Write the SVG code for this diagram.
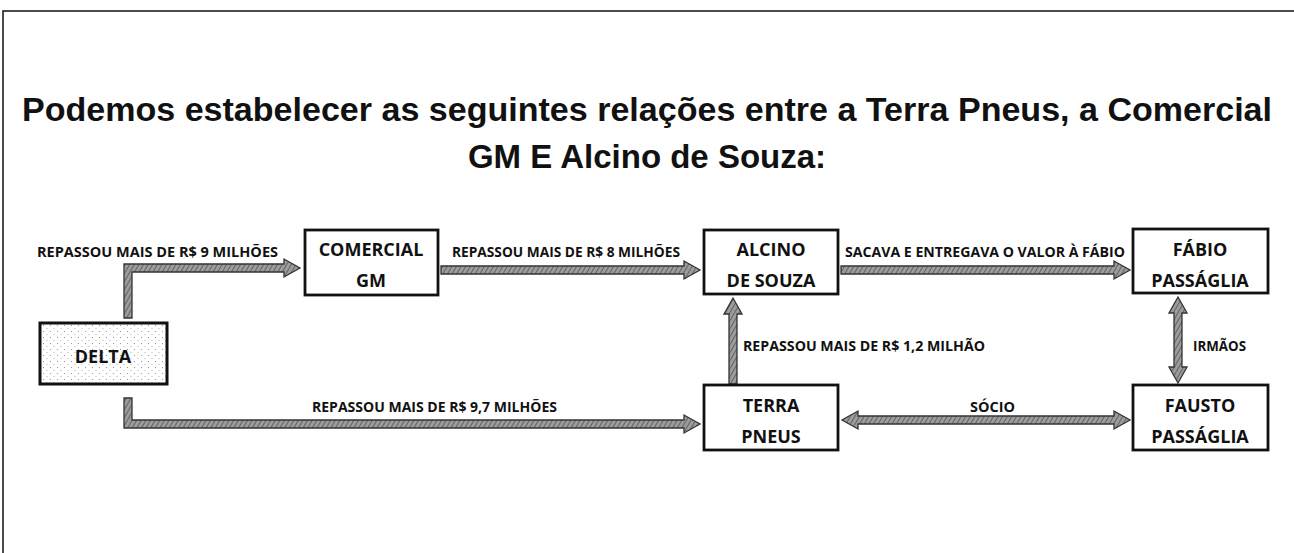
<svg xmlns="http://www.w3.org/2000/svg" width="1294" height="553" viewBox="0 0 1294 553">
<defs>
<pattern id="hatch" width="4" height="4" patternUnits="userSpaceOnUse" patternTransform="rotate(30)">
<rect width="4" height="4" fill="#9c9c9c"/>
<line x1="0" y1="0" x2="0" y2="4" stroke="#505050" stroke-width="1.5"/>
</pattern>
<pattern id="dots" width="7" height="6" patternUnits="userSpaceOnUse">
<rect width="7" height="6" fill="#fff"/>
<circle cx="1.5" cy="1.5" r="0.6" fill="#888"/>
<circle cx="5" cy="4.5" r="0.6" fill="#aaa"/>
</pattern>
</defs>
<style>
.box{fill:#fff;stroke:#111;stroke-width:2.8}
.bt{font-family:"Open Sans","Liberation Sans",sans-serif;font-weight:bold;font-size:18px;fill:#111;text-anchor:middle}
.lb{font-family:"Open Sans","Liberation Sans",sans-serif;font-weight:bold;font-size:13.5px;fill:#111}
.title{font-family:"Liberation Sans",Arial,sans-serif;font-weight:bold;font-size:33px;fill:#111;text-anchor:middle}
.arr{fill:url(#hatch);stroke:#333;stroke-width:1.3;stroke-linejoin:miter}
</style>
<rect width="1294" height="553" fill="#fff"/>
<path d="M3,553 L3,11 L1294,11" fill="none" stroke="#111" stroke-width="1.5"/>
<g id="title">
<text class="title" x="647" y="121" textLength="1250" lengthAdjust="spacingAndGlyphs">Podemos estabelecer as seguintes relações entre a Terra Pneus, a Comercial</text>
<text class="title" x="647" y="168">GM E Alcino de Souza:</text>
</g>
<g id="connectors">
<polygon class="arr" points="124,318 124,264 284,264 284,259 300,268 284,277 284,272 132,272 132,318"/>
<polygon class="arr" points="124,398 124,428 684,428 684,433 700,424 684,415 684,420 132,420 132,398"/>
<polygon class="arr" points="441,266 684,266 684,261 700,270 684,279 684,274 441,274"/>
<polygon class="arr" points="841,266 1114,266 1114,261 1130,270 1114,279 1114,274 841,274"/>
<polygon class="arr" points="729,384 729,314 724,314 733,298 742,314 737,314 737,384"/>
<polygon class="arr" points="1174,313 1169,313 1178,297 1187,313 1182,313 1182,367 1187,367 1178,383 1169,367 1174,367"/>
<polygon class="arr" points="858,416 858,411 842,420 858,429 858,424 1114,424 1114,429 1130,420 1114,411 1114,416"/>
<text class="lb" x="37" y="257" textLength="241" lengthAdjust="spacingAndGlyphs">REPASSOU MAIS DE R$ 9 MILHÕES</text>
<text class="lb" x="452" y="257" textLength="228" lengthAdjust="spacingAndGlyphs">REPASSOU MAIS DE R$ 8 MILHÕES</text>
<text class="lb" x="845" y="257" textLength="280" lengthAdjust="spacingAndGlyphs">SACAVA E ENTREGAVA O VALOR À FÁBIO</text>
<text class="lb" x="743" y="351" textLength="242" lengthAdjust="spacingAndGlyphs">REPASSOU MAIS DE R$ 1,2 MILHÃO</text>
<text class="lb" x="1193" y="351" textLength="53" lengthAdjust="spacingAndGlyphs">IRMÃOS</text>
<text class="lb" x="312" y="412" textLength="245" lengthAdjust="spacingAndGlyphs">REPASSOU MAIS DE R$ 9,7 MILHÕES</text>
<text class="lb" x="970" y="412" textLength="45" lengthAdjust="spacingAndGlyphs">SÓCIO</text>
</g>
<g id="delta">
<rect x="40" y="323" width="127" height="61" fill="url(#dots)" stroke="#111" stroke-width="3"/>
<text class="bt" x="103" y="363">DELTA</text>
</g>
<g id="comercial">
<rect class="box" x="305" y="230" width="133" height="65"/>
<text class="bt" x="371" y="256">COMERCIAL</text>
<text class="bt" x="371" y="287">GM</text>
</g>
<g id="alcino">
<rect class="box" x="704" y="230" width="134" height="64"/>
<text class="bt" x="771" y="256">ALCINO</text>
<text class="bt" x="771" y="287">DE SOUZA</text>
</g>
<g id="fabio">
<rect class="box" x="1133" y="229" width="135" height="64"/>
<text class="bt" x="1200" y="256">FÁBIO</text>
<text class="bt" x="1200" y="287">PASSÁGLIA</text>
</g>
<g id="terra">
<rect class="box" x="704" y="385" width="134" height="65"/>
<text class="bt" x="771" y="412">TERRA</text>
<text class="bt" x="771" y="443">PNEUS</text>
</g>
<g id="fausto">
<rect class="box" x="1133" y="385" width="135" height="65"/>
<text class="bt" x="1200" y="412">FAUSTO</text>
<text class="bt" x="1200" y="443">PASSÁGLIA</text>
</g>
</svg>
